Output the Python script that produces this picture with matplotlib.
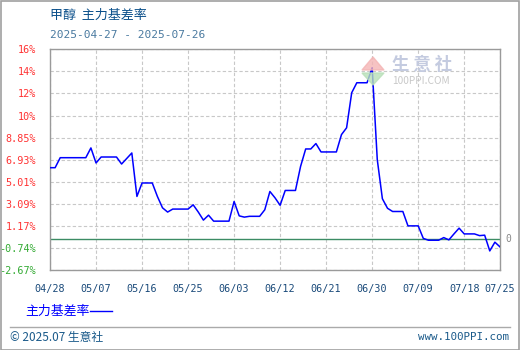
import matplotlib
matplotlib.use("Agg")
import matplotlib.pyplot as plt
import pandas as pd
from matplotlib.patches import Rectangle, Polygon
from matplotlib.lines import Line2D

plt.rcParams['font.family'] = ['Noto Sans CJK SC', 'DejaVu Sans']

# ---- data ----
start_date = "2025-04-28"
end_date = "2025-07-25"
basis_rate = [
    6.23, 6.23, 7.10, 7.10, 7.10, 7.10, 7.10, 7.10, 7.95, 6.64,
    7.16, 7.16, 7.16, 7.16, 6.55, 7.03, 7.51, 3.73, 4.90, 4.90,
    4.90, 3.73, 2.74, 2.37, 2.63, 2.63, 2.63, 2.63, 3.00, 2.37,
    1.67, 2.10, 1.58, 1.58, 1.58, 1.58, 3.29, 2.04, 1.93, 2.00,
    2.00, 2.00, 2.57, 4.16, 3.61, 2.96, 4.25, 4.25, 4.25, 6.34,
    7.86, 7.86, 8.33, 7.60, 7.60, 7.60, 7.60, 9.11, 9.70, 12.75,
    13.62, 13.62, 13.62, 14.93, 6.93, 3.53, 2.70, 2.42, 2.42, 2.42,
    1.17, 1.17, 1.17, 0.08, -0.08, -0.08, -0.08, 0.15, -0.05, 0.47,
    0.97, 0.47, 0.47, 0.47, 0.32, 0.36, -1.01, -0.25, -0.66,
]
y_tick_labels = ["-2.67%", "-0.74%", "1.17%", "3.09%", "5.01%", "6.93%",
                 "8.85%", "10%", "12%", "14%", "16%"]
y_min, y_step = -2.67, 1.92
x_tick_labels = ["04/28", "05/07", "05/16", "05/25", "06/03", "06/12",
                 "06/21", "06/30", "07/09", "07/18", "07/25"]
title_text = "甲醇  主力基差率"
range_text = "2025-04-27 - 2025-07-26"
legend_text = "主力基差率"

dates = pd.date_range(start_date, end_date, freq="D")

W, H = 520, 350
fig = plt.figure(figsize=(W / 100, H / 100), dpi=100)
fig.patch.set_facecolor("white")

def fx(px):
    return px / W

def fy(py):
    return 1 - py / H

ax = fig.add_axes([fx(50), fy(270), fx(450), (270 - 49.3) / H])

ax.plot(dates, basis_rate, color="#0000ff", lw=1.1, zorder=3)
ax.axhline(0, color="#3c8c64", lw=1.0, zorder=2)

yticks = [y_min + i * y_step for i in range(len(y_tick_labels))]
ax.set_ylim(yticks[0], yticks[-1])
ax.set_yticks(yticks)
ax.set_yticklabels(y_tick_labels, family="DejaVu Sans Mono", fontsize=7.3)
for lbl, txt in zip(ax.get_yticklabels(), y_tick_labels):
    lbl.set_color("#33aa33" if txt.startswith("-") else "#ff3333")

xticks = [pd.Timestamp("2025-" + t.replace("/", "-")) for t in x_tick_labels]
ax.set_xlim(dates[0], dates[-1])
ax.set_xticks(xticks)
ax.set_xticklabels(x_tick_labels, family="DejaVu Sans Mono", fontsize=7.3, color="#1a4a7a")
ax.tick_params(axis="both", length=0)
ax.tick_params(axis="y", pad=10)
ax.tick_params(axis="x", pad=10)

ax.grid(True, color="#c8c8c8", ls=(0, (3, 2)), lw=0.8)
for s in ax.spines.values():
    s.set_color("#9a9a9a")
    s.set_linewidth(1.0)

ax.text(1.012, 0, "0", transform=ax.get_yaxis_transform(), fontsize=7,
        color="#888888", va="center", ha="left", family="DejaVu Sans Mono")

# titles
fig.text(fx(50), fy(15), title_text, fontsize=9.4, color="#0a4f8a", va="center", ha="left")
fig.text(fx(50), fy(35), range_text, fontsize=8, color="#4a7aa0", va="center",
         ha="left", family="DejaVu Sans Mono")

# watermark
fig.patches.append(Polygon([[fx(362), fy(70)], [fx(384), fy(70)], [fx(373), fy(57)]],
                           closed=True, transform=fig.transFigure, color="#f4b4b4", alpha=0.8))
fig.patches.append(Polygon([[fx(362), fy(73)], [fx(384), fy(73)], [fx(373), fy(85)]],
                           closed=True, transform=fig.transFigure, color="#b8e0b8", alpha=0.8))
fig.text(fx(392), fy(65), "生 意 社", fontsize=12.5, color="#c4cbe0", va="center", ha="left",
         fontweight="bold")
fig.text(fx(392), fy(81), "100PPI.COM", fontsize=7.3, color="#c8c8c8", va="center", ha="left")

# legend
fig.text(fx(25), fy(311), legend_text, fontsize=9.3, color="#0000ff", va="center", ha="left")
fig.lines.append(Line2D([fx(90), fx(112)], [fy(311), fy(311)], transform=fig.transFigure,
                        color="#0000ff", lw=1.0))

# footer
fig.lines.append(Line2D([fx(10), fx(510)], [fy(326.5), fy(326.5)], transform=fig.transFigure,
                        color="#aaaaaa", lw=1.0))
fig.text(fx(10), fy(337), "© 2025.07 生意社", fontsize=8.5, color="#1a5a8a", va="center", ha="left")
fig.text(fx(509), fy(337), "www.100PPI.com", fontsize=7.8, color="#1a5a8a", va="center",
         ha="right", family="DejaVu Sans Mono")

# outer border
fig.patches.append(Rectangle((0.5 / W, 0.5 / H), 1 - 1.5 / W, 1 - 1.5 / H, transform=fig.transFigure,
                             fill=False, edgecolor="#a0a0a0", lw=1.2))

fig.savefig("out.png", dpi=100)
